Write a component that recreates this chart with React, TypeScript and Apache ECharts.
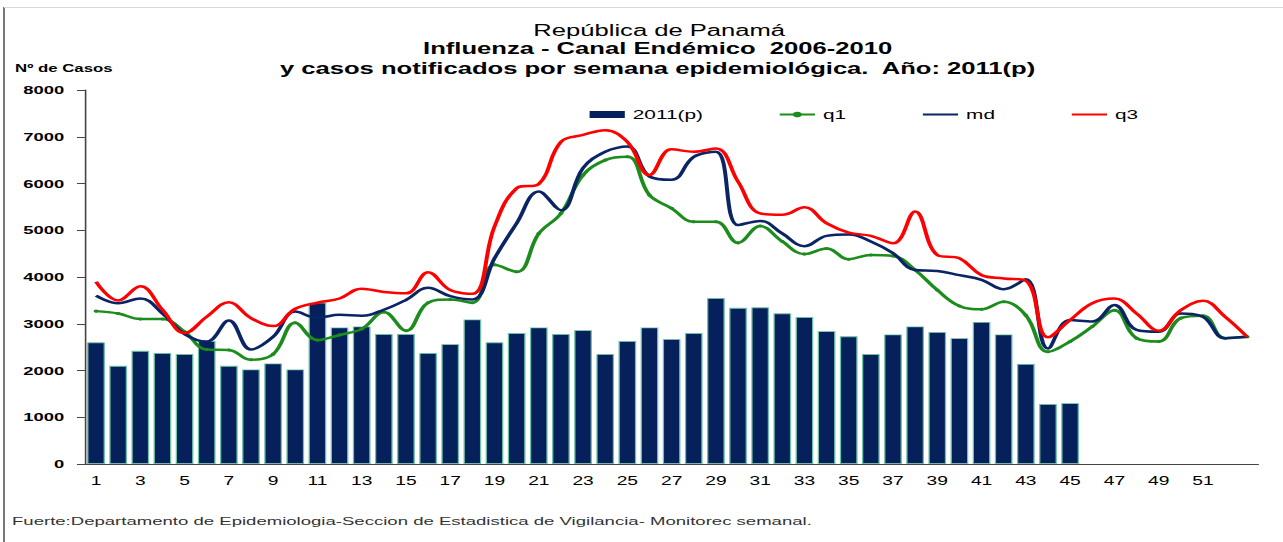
import React, { useEffect, useRef } from "react";
import * as echarts from "echarts";

const weeks = Array.from({ length: 53 }, (_, i) => String(i + 1));

const cases2011 = [
  2600, 2100, 2420, 2370, 2350, 2630, 2100, 2020, 2150, 2020,
  3450, 2920, 2940, 2780, 2780, 2370, 2560, 3090, 2600, 2800,
  2920, 2780, 2860, 2350, 2630, 2920, 2670, 2800, 3550, 3340,
  3350, 3220, 3140, 2840, 2730, 2350, 2770, 2940, 2820, 2690,
  3040, 2770, 2140, 1280, 1300,
];

const q1 = [
  3270, 3220, 3100, 3100, 2830, 2450, 2440, 2230, 2350, 3020,
  2650, 2760, 2890, 3250, 2850, 3450, 3520, 3450, 4260, 4110,
  4930, 5360, 6180, 6500, 6570, 5750, 5470, 5180, 5180, 4730,
  5090, 4760, 4490, 4610, 4380, 4470, 4450, 4150, 3720, 3380,
  3310, 3470, 3180, 2400, 2620, 2940, 3290, 2690, 2620, 3120,
  3170, 2690, 2720,
];

const md = [
  3600, 3440, 3540, 3220, 2780, 2620, 3070, 2450, 2720, 3260,
  3130, 3190, 3170, 3300, 3510, 3770, 3590, 3520, 4400, 5150,
  5830, 5430, 6330, 6680, 6790, 6150, 6080, 6570, 6680, 5110,
  5200, 4930, 4660, 4880, 4910, 4760, 4510, 4150, 4130, 4040,
  3940, 3740, 3950, 2470, 3080, 3050, 3400, 2870, 2830, 3220,
  3150, 2690, 2720,
];

const q3 = [
  3900, 3500, 3800, 3300, 2800, 3150, 3460, 3120, 2950, 3320,
  3450, 3540, 3750, 3680, 3650, 4100, 3720, 3640, 5080, 5900,
  5990, 6890, 7040, 7140, 6890, 6180, 6730, 6680, 6750, 6040,
  5360, 5330, 5490, 5150, 4950, 4880, 4720, 5400, 4470, 4400,
  4040, 3970, 3920, 2710, 3080, 3440, 3540, 3220, 2850, 3290,
  3490, 3150, 2720,
];

const titleLines = [
  "República de Panamá",
  "Influenza - Canal Endémico  2006-2010",
  "y casos notificados por semana epidemiológica.  Año: 2011(p)",
];
const yAxisTitle = "Nº de Casos";
const sourceNote =
  "Fuerte:Departamento de Epidemiologia-Seccion de Estadistica de Vigilancia- Monitorec semanal.";

const W = 1283;
const H = 542;
const S = 1.6;
const IW = W / S;
const FONT = '"Liberation Sans", Arial, sans-serif';

export default function App() {
  const ref = useRef<HTMLDivElement>(null);

  useEffect(() => {
    if (!ref.current) return;
    const chart = echarts.init(ref.current, null, { renderer: "svg" });
    const option: any = {
      animation: false,
      backgroundColor: "#ffffff",
      textStyle: { fontFamily: FONT },
      grid: { left: 53.1, right: IW - 786.3, top: 90, bottom: 78, containLabel: false },
      legend: {
        left: 363.5,
        top: 103,
        itemWidth: 22,
        itemHeight: 7,
        itemGap: 47,
        textStyle: { fontSize: 13, color: "#000", fontFamily: FONT },
        data: [
          { name: "2011(p)", icon: "rect", itemStyle: { borderWidth: 0 } },
          { name: "q1", itemStyle: { color: "#1c8c1c", borderWidth: 0 } },
          { name: "md", itemStyle: { opacity: 0 } },
          { name: "q3", itemStyle: { opacity: 0 } },
        ],
      },
      xAxis: {
        type: "category",
        data: weeks,
        boundaryGap: true,
        axisLine: { lineStyle: { color: "#444", width: 1 } },
        axisTick: { interval: 0, length: 4, lineStyle: { color: "#444" } },
        axisLabel: {
          interval: (idx: number) => idx % 2 === 0 && idx <= 50,
          margin: 11,
          fontSize: 12,
          color: "#000",
          fontFamily: FONT,
        },
        splitLine: { show: false },
      },
      yAxis: {
        type: "value",
        min: 0,
        max: 8000,
        interval: 1000,
        axisLine: { show: true, lineStyle: { color: "#444", width: 1 } },
        axisTick: { show: true, length: 5, lineStyle: { color: "#444" } },
        axisLabel: {
          margin: 13,
          fontSize: 11.5,
          fontWeight: "bold",
          color: "#000",
          fontFamily: FONT,
          formatter: (v: number) => String(v),
        },
        splitLine: { show: false },
      },
      series: [
        {
          name: "2011(p)",
          type: "bar",
          data: cases2011,
          barCategoryGap: "20%",
          itemStyle: { color: "#06205c", borderColor: "#6cc3a6", borderWidth: 0.8 },
          z: 1,
        },
        {
          name: "q1",
          type: "line",
          data: q1,
          smooth: 0.4,
          symbol: "circle",
          symbolSize: 3,
          showSymbol: true,
          lineStyle: { color: "#1c8c1c", width: 2.5 },
          itemStyle: { color: "#1c8c1c" },
          z: 3,
        },
        {
          name: "md",
          type: "line",
          data: md,
          smooth: 0.4,
          symbol: "none",
          lineStyle: { color: "#0a2466", width: 2.5 },
          itemStyle: { color: "#0a2466" },
          z: 4,
        },
        {
          name: "q3",
          type: "line",
          data: q3,
          smooth: 0.4,
          symbol: "none",
          lineStyle: { color: "#ff0000", width: 2.5 },
          itemStyle: { color: "#ff0000" },
          z: 5,
        },
      ],
      graphic: [
        {
          type: "line",
          shape: { x1: 2.5, y1: 7, x2: 2.5, y2: H },
          style: { stroke: "#555", lineWidth: 1 },
        },
        {
          type: "line",
          shape: { x1: 2.5, y1: 7.5, x2: IW, y2: 7.5 },
          style: { stroke: "#d8d8d8", lineWidth: 1 },
        },
        {
          type: "text",
          x: 412,
          y: 31,
          style: {
            text: titleLines[0],
            fontSize: 16,
            fontWeight: "normal",
            fontFamily: FONT,
            fill: "#000",
            align: "center",
            verticalAlign: "middle",
          },
        },
        {
          type: "text",
          x: 411,
          y: 49,
          style: {
            text: titleLines[1],
            fontSize: 16,
            fontWeight: "bold",
            fontFamily: FONT,
            fill: "#000",
            align: "center",
            verticalAlign: "middle",
          },
        },
        {
          type: "text",
          x: 411,
          y: 69,
          style: {
            text: titleLines[2],
            fontSize: 16,
            fontWeight: "bold",
            fontFamily: FONT,
            fill: "#000",
            align: "center",
            verticalAlign: "middle",
          },
        },
        {
          type: "text",
          x: 9.4,
          y: 68,
          style: {
            text: yAxisTitle,
            fontSize: 10.5,
            fontWeight: "bold",
            fontFamily: FONT,
            fill: "#000",
            align: "left",
            verticalAlign: "middle",
          },
        },
        {
          type: "text",
          x: 7.5,
          y: 521,
          style: {
            text: sourceNote,
            fontSize: 11.6,
            fontFamily: FONT,
            fill: "#333",
            align: "left",
            verticalAlign: "middle",
          },
        },
      ],
    };
    chart.setOption(option);
    return () => chart.dispose();
  }, []);

  return (
    <div
      style={{
        position: "absolute",
        left: 0,
        top: 0,
        width: W,
        height: H,
        overflow: "hidden",
        background: "#fff",
      }}
    >
      <div
        ref={ref}
        style={{
          width: IW,
          height: H,
          transform: `scaleX(${S})`,
          transformOrigin: "0 0",
        }}
      />
    </div>
  );
}
